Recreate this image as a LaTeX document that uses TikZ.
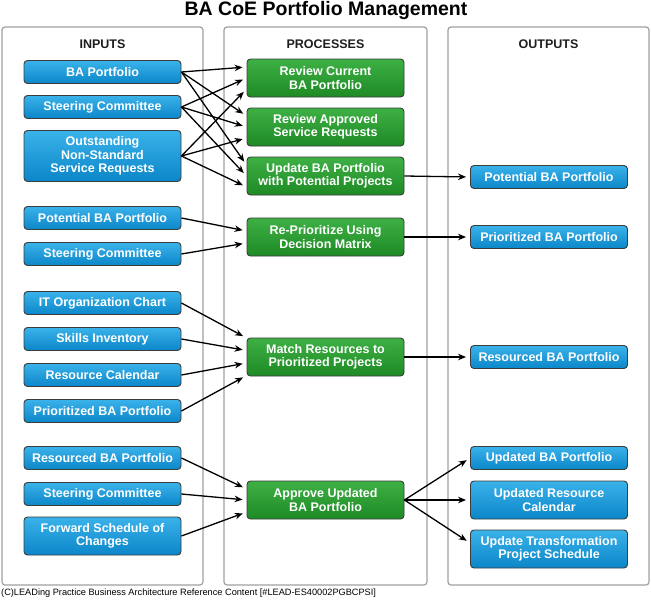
\documentclass[tikz,border=0pt]{standalone}
\usepackage{fontspec}
\setmainfont{Liberation Sans}
\usetikzlibrary{arrows.meta,calc}

\definecolor{bluetop}{HTML}{3AB2EA}
\definecolor{bluebot}{HTML}{0B86C8}
\definecolor{greentop}{HTML}{3DB044}
\definecolor{greenbot}{HTML}{1E8A25}
\definecolor{boxedge}{HTML}{3C3C3C}
\definecolor{panelgray}{HTML}{A0A0A0}
\definecolor{headtext}{HTML}{1E1E1E}

\begin{document}
\begin{tikzpicture}[x=1pt,y=-1pt,
	inbox/.style={draw=boxedge,line width=0.9pt,rounded corners=3.5pt,top color=bluetop,bottom color=bluebot,
		text=white,font=\fontsize{12.5}{13.5}\selectfont\bfseries,align=center,
		minimum width=157pt,minimum height=23pt,inner sep=0pt},
	twoline/.style={minimum height=38pt},
	procbox/.style={inbox,top color=greentop,bottom color=greenbot,twoline},
	panel/.style={draw=panelgray,line width=1.2pt,rounded corners=3pt,fill=white},
	header/.style={text=headtext,font=\fontsize{12.5}{13.5}\selectfont\bfseries},
	flow/.style={-{Stealth[length=8pt,width=6.5pt]},line width=1.3pt,shorten >=4pt}]

	\useasboundingbox (0,0) rectangle (651,600);

	%panels
	\draw[panel] (2,27) rectangle (203,585);
	\draw[panel] (224,27) rectangle (427,585);
	\draw[panel] (448,27) rectangle (649,585);

	%title and headers
	\node[text=black,font=\fontsize{19.5}{21}\selectfont\bfseries] (title) at (326,10) {BA CoE Portfolio Management};
	\node[header] (hin)   at (102.5,44) {INPUTS};
	\node[header] (hproc) at (325.5,44) {PROCESSES};
	\node[header] (hout)  at (548.5,44) {OUTPUTS};

	%inputs
	\node[inbox] (ip1)  at (102.5,72)  {BA Portfolio};
	\node[inbox] (ip2)  at (102.5,107) {Steering Committee};
	\node[inbox,minimum height=51pt] (ip3) at (102.5,156) {Outstanding\\Non-Standard\\Service Requests};
	\node[inbox] (ip4)  at (102.5,218) {Potential BA Portfolio};
	\node[inbox] (ip5)  at (102.5,254) {Steering Committee};
	\node[inbox] (ip6)  at (102.5,303) {IT Organization Chart};
	\node[inbox] (ip7)  at (102.5,339) {Skills Inventory};
	\node[inbox] (ip8)  at (102.5,375) {Resource Calendar};
	\node[inbox] (ip9)  at (102.5,411) {Prioritized BA Portfolio};
	\node[inbox] (ip10) at (102.5,458) {Resourced BA Portfolio};
	\node[inbox] (ip11) at (102.5,494) {Steering Committee};
	\node[inbox,twoline] (ip12) at (102.5,536) {Forward Schedule of\\Changes};

	%processes
	\node[procbox] (pr1) at (325.5,78)  {Review Current\\BA Portfolio};
	\node[procbox] (pr2) at (325.5,127) {Review Approved\\Service Requests};
	\node[procbox] (pr3) at (325.5,176) {Update BA Portfolio\\with Potential Projects};
	\node[procbox] (pr4) at (325.5,237) {Re-Prioritize Using\\Decision Matrix};
	\node[procbox] (pr5) at (325.5,357) {Match Resources to\\Prioritized Projects};
	\node[procbox] (pr6) at (325.5,500) {Approve Updated\\BA Portfolio};

	%outputs
	\node[inbox] (out1) at (549,177) {Potential BA Portfolio};
	\node[inbox] (out2) at (549,237) {Prioritized BA Portfolio};
	\node[inbox] (out3) at (549,357) {Resourced BA Portfolio};
	\node[inbox] (out4) at (549,458) {Updated BA Portfolio};
	\node[inbox,twoline] (out5) at (549,500) {Updated Resource\\Calendar};
	\node[inbox,twoline] (out6) at (549,549) {Update Transformation\\Project Schedule};

	%arrows inputs--processes
	\foreach \src/\dy in {ip1/11,ip2/0,ip3/-11}
		\foreach \dst in {pr1,pr2,pr3}
			\draw[flow] (\src.east) -- ([yshift=\dy pt]\dst.west);
	\draw[flow] (ip4.east) -- ([yshift=6pt]pr4.west);
	\draw[flow] (ip5.east) -- ([yshift=-6pt]pr4.west);
	\foreach \src/\dy in {ip6/19,ip7/6.5,ip8/-6,ip9/-18.5}
		\draw[flow] (\src.east) -- ([yshift=\dy pt]pr5.west);
	\foreach \src/\dy in {ip10/11,ip11/0,ip12/-12}
		\draw[flow] (\src.east) -- ([yshift=\dy pt]pr6.west);

	%arrows processes--outputs
	\draw[flow] (pr3.east) -- (out1.west);
	\draw[flow] (pr4.east) -- (out2.west);
	\draw[flow] (pr5.east) -- (out3.west);
	\draw[flow] (pr6.east) -- (out4.west);
	\draw[flow] (pr6.east) -- (out5.west);
	\draw[flow] (pr6.east) -- ([yshift=6pt]out6.west);

	%footer
	\node[anchor=west,inner sep=0pt,font=\fontsize{9.2}{10}\selectfont] (foot) at (1,593)
		{(C)LEADing Practice Business Architecture Reference Content [\#LEAD-ES40002PGBCPSI]};
\end{tikzpicture}
\end{document}
